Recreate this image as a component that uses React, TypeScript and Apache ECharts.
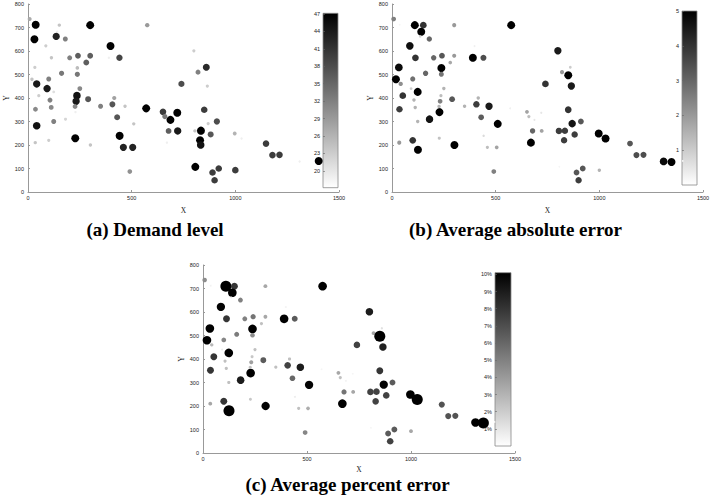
import React, { useEffect, useRef } from 'react';
import * as echarts from 'echarts';

// Site coordinates (shared by the three panels)
const siteX = [8, 37, 110, 151, 300, 575, 141, 136, 180, 86,
  398, 113, 201, 241, 300, 281, 390, 441, 800, 33,
  19, 42, 162, 238, 238, 100, 92, 124, 52, 106,
  250, 236, 232, 229, 290, 112, 36, 350, 407, 416,
  468, 570, 430, 510, 181, 124, 228, 35, 100, 125,
  301, 442, 460, 505, 491, 651, 660, 687, 720, 678,
  722, 670, 740, 820, 850, 860, 865, 850, 805, 834,
  869, 911, 881, 830, 997, 1030, 807, 890, 900, 920,
  1000, 1148, 1179, 1213, 1310, 1348,
  31, 227, 42, 833, 1402];
const siteY = [736, 712, 710, 710, 710, 710, 682, 662, 651, 622,
  621, 571, 571, 580, 580, 551, 571, 571, 601, 530,
  480, 460, 505, 528, 501, 481, 440, 426, 410, 391,
  440, 410, 386, 340, 395, 360, 352, 365, 373, 400,
  365, 356, 318, 290, 310, 300, 229, 210, 220, 180,
  200, 239, 190, 190, 87, 341, 321, 307, 337, 260,
  260, 210, 460, 510, 497, 531, 451, 350, 260, 261,
  291, 300, 245, 220, 249, 228, 107, 83, 50, 100,
  93, 206, 157, 158, 130, 128,
  650, 364, 282, 200, 132];

// (a) Demand level
const demandLevel = [27, 47, 17, 24, 47, 29, 19, 43, 32, 23,
  47, 24, 32, 36, 36, 36, 19, 39, 23, 23,
  24, 44, 33, 25, 33, 32, 44, 21, 23, 32,
  31, 45, 44, 19, 37, 31, 31, 32, 37, 28,
  24, 47, 37, 24, 22, 32, 47, 24, 23, 17,
  24, 47, 43, 43, 30, 40, 33, 47, 47, 36,
  44, 19, 38, 32, 17, 42, 23, 40, 24, 47,
  23, 38, 37, 47, 26, 19, 47, 40, 40, 40,
  40, 40, 40, 40, 19, 17,
  47, 31, 45, 45, 47];

// (b) Average absolute error
const absError = [2.5, 0.2, 5, 4, 2, 5, 5, 0.8, 3, 4.7,
  0.3, 4, 3, 3.3, 2, 1.7, 5, 3.5, 4.5, 4.8,
  5, 2.2, 3, 5, 2.7, 2.8, 1, 5, 4, 1.5,
  1.5, 1.3, 2.5, 5, 3.3, 1.5, 3.8, 1.5, 3.8, 1.5,
  4.5, 0.3, 3.2, 5, 4.6, 1.5, 1.2, 2, 4, 5,
  5, 0.7, 1.3, 1.8, 2.5, 1.8, 1.3, 0.5, 0.5, 3,
  1.8, 5, 4, 2, 5, 1, 4.5, 4, 3.8, 3.8,
  4.6, 3.3, 3.8, 3.8, 5, 5, 0.2, 3.3, 3.8, 3.3,
  1.5, 3.3, 3.5, 3.5, 4.8, 5,
  0, 1.5, 0, 0, 0];

// (c) Average percent error (%)
const pctError = [4.5, 0.5, 14, 8, 3.5, 10.5, 10.5, 0.8, 5, 10,
  0.5, 8, 5, 5.5, 3.5, 2.5, 10.5, 6.5, 9, 10.5,
  10.5, 2.8, 5.2, 10.5, 4.5, 4.8, 0.8, 10.5, 8, 2.5,
  2.5, 2.2, 3.8, 10.5, 6.5, 2.5, 8, 2.5, 7.5, 2.5,
  9, 0.4, 6, 10, 9, 2.5, 2.2, 3.5, 8, 14,
  10, 0.7, 2.5, 3.2, 4.8, 3.5, 2.5, 0.5, 0.4, 5.5,
  3.5, 10.5, 7.5, 3.5, 14, 1.2, 8.8, 8, 7.5, 7.5,
  10, 6.5, 7.5, 7.5, 10.5, 14, 0.4, 6.5, 7.5, 6.5,
  3.5, 6.8, 6.8, 6.8, 10.5, 14,
  0, 2.5, 0, 0, 0];

const demandTicks = [20, 23, 26, 29, 32, 35, 38, 41, 44, 47];
const absTicks = [1, 2, 3, 4, 5];
const pctTicks = [1, 2, 3, 4, 5, 6, 7, 8, 9, 10];
const titles = ['(a) Demand level', '(b) Average absolute error', '(c) Average percent error'];

const SANS = 'Liberation Sans, Arial, sans-serif';
const SERIF = 'Liberation Serif, Times New Roman, serif';

export default function App() {
  const ref = useRef<HTMLDivElement>(null);
  useEffect(() => {
    if (!ref.current) return;
    const chart = echarts.init(ref.current, undefined, { renderer: 'svg' });

    const panels = [
      { values: demandLevel, grid: { left: 28, top: 4, width: 311, height: 188 }, bar: { left: 323, top: 13.3, width: 15, height: 174.4 },
        cmin: 17.1, cmax: 47.1, smin: 17, smax: 47, sizes: [2, 8], ticks: demandTicks, fmt: '{value}', title: titles[0], tx: 155, ty: 239, xGap: 14 },
      { values: absError, grid: { left: 392, top: 4, width: 311, height: 188 }, bar: { left: 682, top: 11, width: 15, height: 174 },
        cmin: 0, cmax: 5, smin: 0, smax: 5, sizes: [1.5, 8], ticks: absTicks, fmt: '{value}', title: titles[1], tx: 515.5, ty: 239, xGap: 14 },
      { values: pctError, grid: { left: 203, top: 265, width: 312, height: 188 }, bar: { left: 495, top: 272.7, width: 16, height: 173.3 },
        cmin: 0, cmax: 10.1, smin: 0, smax: 14, sizes: [1.5, 11], ticks: pctTicks, fmt: '{value}%', title: titles[2], tx: 347.5, ty: 494, xGap: 12 },
    ];

    const grids: any[] = [];
    const xAxes: any[] = [];
    const yAxes: any[] = [];
    const series: any[] = [];
    const visualMaps: any[] = [];
    const graphics: any[] = [];

    panels.forEach((p, i) => {
      grids.push({ ...p.grid });
      grids.push({ ...p.bar });
      const gi = grids.length - 2;
      xAxes.push({
        gridIndex: gi, type: 'value', min: 0, max: 1500, interval: 500,
        axisLine: { lineStyle: { color: '#999', width: 1 } },
        axisTick: { inside: true, length: 2, lineStyle: { color: '#999' } },
        axisLabel: { fontSize: 5.5, color: '#222', fontFamily: SANS, margin: 3, formatter: (v: number) => String(v) },
        splitLine: { show: false },
        name: 'X', nameLocation: 'middle', nameGap: p.xGap,
        nameTextStyle: { fontFamily: SERIF, fontSize: 7.5, color: '#222' },
      });
      yAxes.push({
        gridIndex: gi, type: 'value', min: 0, max: 800, interval: 100,
        axisLine: { show: true, lineStyle: { color: '#999', width: 1 } },
        axisTick: { show: true, inside: true, length: 2, lineStyle: { color: '#999' } },
        axisLabel: { fontSize: 5.5, color: '#222', fontFamily: SANS, margin: 4, formatter: (v: number) => String(v) },
        splitLine: { show: false },
        name: 'Y', nameLocation: 'middle', nameGap: 13, nameRotate: 90,
        nameTextStyle: { fontFamily: SERIF, fontSize: 7.5, color: '#222' },
      });
      xAxes.push({ gridIndex: gi + 1, type: 'value', min: 0, max: 1, show: false });
      yAxes.push({
        gridIndex: gi + 1, type: 'value', min: p.cmin, max: p.cmax, position: 'left', z: 10,
        axisLine: { show: false },
        axisTick: { show: true, inside: true, length: 2, lineStyle: { color: '#666', width: 0.6 }, customValues: p.ticks },
        axisLabel: { fontSize: 5.5, color: '#222', fontFamily: SANS, margin: 3, formatter: p.fmt, customValues: p.ticks },
        splitLine: { show: false },
      });
      series.push({
        type: 'scatter', xAxisIndex: xAxes.length - 2, yAxisIndex: yAxes.length - 2,
        symbol: 'circle',
        data: siteX.map((x, k) => [x, siteY[k], p.values[k]]),
        itemStyle: { opacity: 1 },
        silent: true,
      });
      visualMaps.push({
        type: 'continuous', show: false, dimension: 2, seriesIndex: i,
        min: p.cmin, max: p.cmax, inRange: { color: ['#ffffff', '#000000'] },
      });
      visualMaps.push({
        type: 'continuous', show: false, dimension: 2, seriesIndex: i,
        min: p.smin, max: p.smax, inRange: { symbolSize: p.sizes },
      });
      graphics.push({
        type: 'rect', z: 1,
        shape: { x: p.bar.left, y: p.bar.top, width: p.bar.width, height: p.bar.height },
        style: {
          fill: new echarts.graphic.LinearGradient(0, 0, 0, 1, [
            { offset: 0, color: '#000000' }, { offset: 1, color: '#ffffff' },
          ]),
          stroke: '#888', lineWidth: 0.8,
        },
      });
      graphics.push({
        type: 'text', z: 5, x: p.tx, y: p.ty,
        style: { text: p.title, fontFamily: SERIF, fontWeight: 'bold', fontSize: 19, fill: '#000', textAlign: 'center', textVerticalAlign: 'bottom' },
      });
    });

    chart.setOption({
      animation: false,
      backgroundColor: '#ffffff',
      grid: grids,
      xAxis: xAxes,
      yAxis: yAxes,
      visualMap: visualMaps,
      series,
      graphic: graphics,
    });
    return () => chart.dispose();
  }, []);
  return <div ref={ref} style={{ position: 'fixed', left: 0, top: 0, width: 713, height: 503 }} />;
}
